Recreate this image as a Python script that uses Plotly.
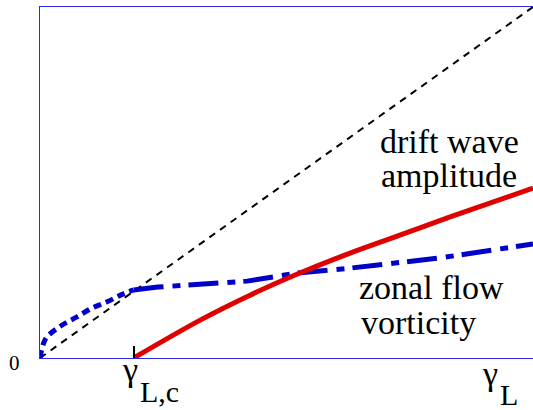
import plotly.graph_objects as go

# ---- data (normalised units: x = gamma_L / gamma_L,max, y = amplitude) ----
gamma_c = 0.19

diag_x = [0.0, 1.0]
diag_y = [0.0, 1.0]

zf_low_x = [0.0, 0.006, 0.014, 0.045, 0.075, 0.105, 0.136, 0.168, 0.19]
zf_low_y = [0.0, 0.037, 0.060, 0.094, 0.117, 0.142, 0.160, 0.182, 0.194]

zf_high_x = [0.19, 0.239, 0.42, 0.521, 0.629, 0.811, 1.0]
zf_high_y = [0.194, 0.202, 0.219, 0.242, 0.256, 0.285, 0.325]

dw_x = [0.19, 0.325, 0.426, 0.527, 0.629, 0.730, 0.832, 1.0]
dw_y = [0.0, 0.108, 0.179, 0.242, 0.299, 0.350, 0.402, 0.484]

tick_vals = [gamma_c]

W, H = 533, 410
L, R, T, B = 40, 0, 7, 52
PW, PH = W - L - R, H - T - B

def px(x):
    return (x - L) / PW

def py(y):
    return (H - B - y) / PH

BLUE = "#0000c8"
RED = "#e00000"
FRAME = "#2a2ae6"
SERIF = "Liberation Serif, Times New Roman, serif"

fig = go.Figure()
fig.add_trace(go.Scatter(x=diag_x, y=diag_y, mode="lines",
                         line=dict(color="black", width=2, dash="7px,6px")))
fig.add_trace(go.Scatter(x=zf_low_x, y=zf_low_y, mode="lines",
                         line=dict(color=BLUE, width=5, dash="8px,5px", shape="spline")))
fig.add_trace(go.Scatter(x=zf_high_x, y=zf_high_y, mode="lines",
                         line=dict(color=BLUE, width=5, dash="30px,9px,8px,8px")))
fig.add_trace(go.Scatter(x=dw_x, y=dw_y, mode="lines",
                         line=dict(color=RED, width=5, shape="spline")))

ann = []
def text(t, x, y, size, xanchor="center"):
    ann.append(dict(text=t, x=px(x), y=py(y), xref="paper", yref="paper",
                    showarrow=False, xanchor=xanchor, yanchor="middle",
                    font=dict(family=SERIF, size=size, color="black")))

text("drift wave", 449, 141, 34)
text("amplitude", 449, 175, 34)
text("zonal flow", 357, 287, 34, "left")
text("vorticity", 359, 322, 34, "left")
text("0", 14, 363, 21)
text("γ", 130, 369, 34)
text("L,c", 138, 391, 30, "left")
text("γ", 490, 373, 34)
text("L", 498, 394, 30, "left")

fig.update_layout(
    width=W, height=H,
    margin=dict(l=L, r=R, t=T, b=B),
    plot_bgcolor="white", paper_bgcolor="white",
    showlegend=False,
    annotations=ann,
    xaxis=dict(range=[0, 1], showgrid=False, zeroline=False,
               showline=True, linecolor=FRAME, linewidth=1, mirror=True,
               tickvals=tick_vals, ticks="inside", ticklen=12, tickwidth=2,
               tickcolor="black", showticklabels=False),
    yaxis=dict(range=[0, 1], showgrid=False, zeroline=False,
               showline=True, linecolor=FRAME, linewidth=1, mirror=False,
               ticks="", showticklabels=False),
)

fig.write_html("out.html",
               config={"displayModeBar": False},
               post_script="document.body.style.margin='0';"
                           "document.body.style.overflow='hidden';")
